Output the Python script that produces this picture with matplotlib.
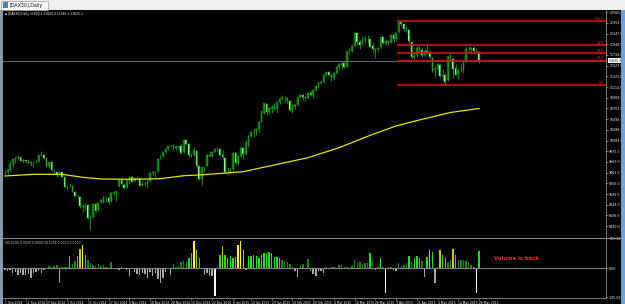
import matplotlib
matplotlib.use('Agg')
import matplotlib.pyplot as plt
import numpy as np
from matplotlib.patches import Rectangle
from matplotlib.lines import Line2D

# DAX30 daily bars, 1 Sep 2014 .. 26 May 2015
opens = [9470, 9480, 9510, 9630, 9720, 9750, 9760, 9690, 9700, 9690, 9650, 9660, 9660, 9670, 9800, 9800, 9740, 9600, 9660, 9500, 9480, 9430,
         9470, 9380, 9190, 9200, 9200, 9090, 9010, 8990, 8800, 8810, 8830, 8560, 8600, 8850, 8740, 8890, 8920, 8990, 8980, 8910, 9070, 9060, 9200,
         9330, 9230, 9180, 9310, 9380, 9300, 9360, 9360, 9220, 9250, 9240, 9300, 9460, 9470, 9490, 9740, 9790, 9860, 9920, 9970,
         9990, 9960, 9930, 9980, 9860, 10090, 10010, 9800, 9800, 9890, 9590, 9340, 9560, 9600, 9810, 9790, 9870, 9920, 9920,
         9810, 9750, 9480, 9470, 9530, 9840, 9650, 9790, 9930, 9820, 10000, 10170, 10240, 10260, 10300, 10450, 10620, 10790, 10630, 10700, 10740,
         10700, 10830, 10890, 10910, 10900, 10840, 10670, 10760, 10760, 10920, 10960, 10920, 10900, 11000, 10960, 11060, 11130, 11200, 11220, 11350,
         11400, 11350, 11290, 11390, 11500, 11550, 11580, 11510, 11800, 11810, 11910, 12150, 11980, 11950, 12030, 12050, 12040, 11900, 11820, 11840, 11880, 12080,
         11970, 12000, 11980, 12120, 12040, 12170, 12370, 12330, 12230, 12220, 11990, 11690, 11730, 11870, 11830, 11740, 11820, 11790, 11680, 11440,
         11460, 11540, 11330, 11340, 11250, 11700, 11660, 11480, 11360, 11440, 11450, 11600, 11850, 11840, 11860, 11810, 11800]
highs = [9490, 9530, 9680, 9750, 9760, 9800, 9770, 9720, 9710, 9720, 9680, 9680, 9700, 9810, 9890, 9810, 9745, 9670, 9690, 9530, 9490, 9500,
         9480, 9390, 9230, 9270, 9210, 9100, 9040, 9000, 8850, 8880, 8840, 8640, 8880, 8870, 8900, 8960, 9020, 9000, 9000, 9080, 9110, 9130, 9340,
         9370, 9260, 9330, 9390, 9410, 9370, 9400, 9370, 9300, 9290, 9320, 9470, 9490, 9500, 9740, 9800, 9870, 9920, 9980, 10000,
         10020, 9990, 9990, 10020, 10090, 10100, 10030, 9840, 9950, 9900, 9610, 9580, 9600, 9820, 9880, 9880, 9930, 9950, 9930,
         9900, 9760, 9580, 9560, 9850, 9860, 9800, 9970, 9940, 10100, 10180, 10250, 10280, 10330, 10440, 10660, 10810, 10800, 10730, 10760, 10810,
         10840, 10900, 10960, 10950, 10920, 10850, 10780, 10790, 10930, 10980, 10970, 10950, 11010, 11030, 11060, 11140, 11210, 11240, 11360, 11410,
         11420, 11370, 11400, 11520, 11580, 11600, 11590, 11820, 11860, 11920, 12180, 12160, 12030, 12100, 12100, 12110, 12060, 11980, 11860, 11890, 12100, 12090,
         12040, 12010, 12130, 12140, 12180, 12391, 12390, 12340, 12290, 12230, 12000, 11800, 11900, 11900, 11860, 11840, 11940, 11820, 11690, 11520,
         11570, 11560, 11460, 11380, 11720, 11770, 11680, 11560, 11470, 11560, 11610, 11880, 11900, 11890, 11900, 11850, 11820]
lows = [9410, 9440, 9500, 9580, 9650, 9730, 9680, 9640, 9640, 9640, 9600, 9580, 9640, 9660, 9780, 9720, 9580, 9560, 9500, 9440, 9380, 9410,
        9370, 9180, 9130, 9190, 9080, 8990, 8970, 8780, 8700, 8750, 8560, 8355, 8590, 8700, 8720, 8870, 8880, 8900, 8860, 8900, 9040, 8910, 9190,
        9220, 9140, 9170, 9240, 9280, 9280, 9320, 9200, 9200, 9210, 9160, 9290, 9420, 9380, 9480, 9720, 9770, 9840, 9900, 9950,
        9900, 9900, 9900, 9830, 9850, 9990, 9770, 9760, 9780, 9580, 9320, 9220, 9470, 9590, 9760, 9770, 9860, 9880, 9790,
        9730, 9460, 9420, 9450, 9520, 9630, 9620, 9770, 9720, 9810, 9950, 10150, 10160, 10190, 10240, 10440, 10600, 10580, 10600, 10610, 10680,
        10620, 10780, 10860, 10830, 10800, 10650, 10620, 10700, 10740, 10900, 10870, 10850, 10880, 10940, 10900, 11040, 11100, 11170, 11200, 11330,
        11320, 11240, 11250, 11370, 11470, 11460, 11480, 11500, 11750, 11800, 11900, 11930, 11850, 11930, 11970, 11990, 11890, 11800, 11680, 11800, 11870, 11940,
        11920, 11930, 11970, 11990, 12010, 12160, 12300, 12190, 12180, 11960, 11660, 11650, 11700, 11770, 11700, 11710, 11780, 11650, 11400, 11300,
        11440, 11300, 11260, 11155, 11240, 11640, 11290, 11340, 11270, 11410, 11380, 11590, 11790, 11760, 11780, 11780, 11585]
closes = [9479, 9507, 9627, 9724, 9747, 9758, 9686, 9700, 9691, 9651, 9659, 9661, 9661, 9799, 9799, 9749, 9595, 9661, 9510, 9490, 9422, 9474,
          9382, 9195, 9195, 9209, 9086, 9005, 9005, 8812, 8812, 8825, 8582, 8582, 8850, 8717, 8886, 8940, 8987, 8987, 8902, 9068, 9082, 9114, 9326,
          9235, 9167, 9316, 9378, 9291, 9351, 9369, 9210, 9248, 9252, 9306, 9456, 9472, 9483, 9732, 9785, 9861, 9915, 9974, 9980,
          9963, 9934, 9971, 9851, 10087, 10014, 9799, 9799, 9903, 9594, 9335, 9563, 9544, 9811, 9787, 9865, 9922, 9927, 9805,
          9764, 9473, 9469, 9518, 9837, 9648, 9781, 9941, 9817, 10032, 10167, 10242, 10257, 10299, 10435, 10649, 10798, 10628, 10710, 10738, 10694,
          10828, 10890, 10911, 10905, 10846, 10663, 10752, 10752, 10919, 10963, 10924, 10895, 11001, 10961, 11051, 11131, 11206, 11211, 11353, 11401,
          11356, 11280, 11390, 11504, 11551, 11582, 11500, 11806, 11799, 11901, 12167, 11980, 11922, 12020, 12040, 12039, 11895, 11844, 11843, 11868, 12086, 11966,
          12001, 11967, 12123, 12036, 12166, 12375, 12338, 12227, 12231, 11998, 11689, 11717, 11872, 11833, 11737, 11811, 11796, 11688, 11432, 11454,
          11551, 11327, 11350, 11222, 11709, 11673, 11472, 11352, 11447, 11447, 11594, 11853, 11848, 11864, 11815, 11818, 11625]

# volume oscillator histogram (lower window)
vol_osc = [-7, -11, -7, -18, -14, -25, -18, -25, -25, -22,
           -36, -18, -14, -11, -18, -7, -4, 7, 4, 7,
           11, -54, 4, 4, 4, 43, 14, 25, 43, 68,
           83, 47, 29, 18, 11, 7, 14, 7, 11, 4,
           -4, 22, -4, -4, -7, 4, -4, -7, -29, -4,
           -14, -22, -25, -18, -22, -36, -14, -29, -18, -40,
           -54, -36, -14, -4, -25, 14, 4, 7, 22, 25,
           22, 36, 54, 97, 65, 36, -4, -25, -18, -29,
           -29, -101, 4, 47, 79, 47, 36, 43, 36, 40,
           83, 97, 65, -7, 43, 43, 47, 43, 36, 47,
           54, 54, 58, 54, 40, 40, 36, 29, 25, 22,
           14, 4, -11, -32, 11, 14, -4, 32, -11, -22,
           -29, -11, -11, -18, 4, -4, 4, 4, -4, 11,
           11, 4, 4, -4, 7, 29, 18, 22, 14, 18,
           18, 54, 25, -7, 4, 36, 4, -90, 4, 4,
           -7, -11, 18, 7, 11, 18, 43, 22, 36, 43,
           36, 25, -32, 40, 65, 58, -54, 4, 65, 47,
           36, 22, 29, 68, 47, 29, 29, 29, 25, 22,
           11, 4, -90, 61]

# 200 day moving average
ma_idx = [0, 11, 22, 30, 37, 49, 60, 69, 75, 84, 92, 104, 117, 129, 142, 151, 160, 172, 183]
ma_val = [9398, 9431, 9431, 9373, 9341, 9335, 9346, 9404, 9418, 9451, 9482, 9611, 9752, 9945, 10203, 10364, 10480, 10624, 10701]

# fibonacci retracement from the April high to the May low
fib_start = 152
fib_end = 170
fib_high = 12391
fib_low = 11155
fib_levels = [100.0, 61.8, 50.0, 38.2, 0.0]

bid = 11625.1
price_ticks = [12560, 12353.5, 12147, 11940.5, 11734, 11527.5, 11321, 11114.5, 10908, 10701.5, 10495,
               10288.5, 10082, 9875.5, 9669, 9462.5, 9256, 9049.5, 8843, 8636.5, 8430]
vol_ticks = [107.3327, 0, -105.0174]
date_ticks = [0, 8, 16, 24, 32, 40, 48, 56, 64, 72, 80, 88, 95, 103, 111, 119, 127, 135, 143, 151, 159, 167, 175, 183]
date_labels = ['1 Sep 2014', '11 Sep 2014', '23 Sep 2014', '3 Oct 2014', '15 Oct 2014', '27 Oct 2014', '6 Nov 2014',
               '18 Nov 2014', '28 Nov 2014', '10 Dec 2014', '22 Dec 2014', '8 Jan 2015', '19 Jan 2015', '29 Jan 2015',
               '10 Feb 2015', '20 Feb 2015', '4 Mar 2015', '16 Mar 2015', '26 Mar 2015', '9 Apr 2015', '21 Apr 2015',
               '4 May 2015', '14 May 2015', '26 May 2015']

W, H = 625, 304
fig = plt.figure(figsize=(W / 100, H / 100), dpi=100, facecolor='black')

def box(x0, y0, x1, y1):
    # pixel box (top-left origin) -> figure fraction rect
    return [x0 / W, 1 - y1 / H, (x1 - x0) / W, (y1 - y0) / H]

def frect(x0, y0, x1, y1, **kw):
    r = box(x0, y0, x1, y1)
    fig.patches.append(Rectangle((r[0], r[1]), r[2], r[3], transform=fig.transFigure, **kw))

def fline(x0, y0, x1, y1, **kw):
    fig.lines.append(Line2D([x0 / W, x1 / W], [1 - y0 / H, 1 - y1 / H], transform=fig.transFigure, **kw))

# window frame
frect(0, 0, W, 10, facecolor='#eeeeee', edgecolor='none')
frect(1, 0.5, 48, 10, facecolor='white', edgecolor='#9a9a9a', lw=0.5)
frect(3, 2.5, 8, 7.5, facecolor='#4a7fc0', edgecolor='none')
fig.text(10 / W, 1 - 5.5 / H, '[DAX30],Daily', fontsize=3.4, color='black', va='center')
frect(0, 10, 3, H, facecolor='#8d97a8', edgecolor='none')
frect(621, 10, W, H, facecolor='#6aa3dc', edgecolor='none')

x = np.arange(len(closes))
o = np.array(opens, dtype=float)
h = np.array(highs, dtype=float)
l = np.array(lows, dtype=float)
c = np.array(closes, dtype=float)
up = c >= o

xmin = (3 - 5) / 2.59
xmax = (606 - 5) / 2.59

# main price window
ax = fig.add_axes(box(3, 10, 606, 237))
ax.set_facecolor('black')
ax.vlines(x, l, h, color='#1a9e1a', lw=0.6)
ax.bar(x[up], (c - o)[up], bottom=o[up], width=0.62, color='#0b650b', edgecolor='#1a9e1a', lw=0.35)
ax.bar(x[~up], (o - c)[~up], bottom=c[~up], width=0.62, color='#dcffdc', edgecolor='#1a9e1a', lw=0.35)
ax.plot(ma_idx, ma_val, color='#e6e600', lw=0.9)

ax.axhline(bid, color='#6a6a6a', lw=0.7)
rng = fib_high - fib_low
for lv in fib_levels:
    p = fib_low + rng * lv / 100
    ax.hlines(p, fib_start - 0.5, xmax, color='#ff0000', lw=1.1)
    ax.text(xmax - 0.8, p + 8, '%.1f' % lv, color='#ff2a2a', fontsize=2.3, ha='right', va='bottom')
ax.plot([fib_start, fib_end], [fib_high, fib_low], ls=':', color='#3550a8', lw=0.6)

ax.set_xlim(xmin, xmax)
ax.set_ylim(8221, 12602)
ax.set_yticks(price_ticks)
ax.set_yticklabels(['%.1f' % p for p in price_ticks])
ax.yaxis.tick_right()
ax.tick_params(axis='y', length=1.5, width=0.4, color='#c8c8c8', labelcolor='white', labelsize=2.3, pad=0.8)
ax.set_xticks([])
for s in ['top', 'left', 'bottom']:
    ax.spines[s].set_visible(False)
ax.spines['right'].set_color('#909090')
ax.spines['right'].set_linewidth(0.6)
ax.text(1.004, bid, '%.1f' % bid, transform=ax.get_yaxis_transform(), fontsize=2.3, color='black', va='center',
        bbox=dict(boxstyle='square,pad=0.15', facecolor='white', edgecolor='none'))
fig.text(5 / W, 1 - 13.5 / H, '\u25aa [DAX30],Daily 11800.2 11820.4 11585.1 11625.1', fontsize=2.2, color='white', va='center')

# volume window
axv = fig.add_axes(box(3, 238, 606, 298))
axv.set_facecolor('black')
v = np.array(vol_osc, dtype=float)
cols = []
for val in v:
    if val >= 80:
        cols.append('#ffff00')
    elif val >= 64:
        cols.append('#c8c800')
    elif val >= 36:
        cols.append('#22e022')
    elif val > 0:
        cols.append('#138a13')
    elif val <= -70:
        cols.append('#f4f4f4')
    else:
        cols.append('#a8a8a8')
axv.bar(x, v, width=0.55, color=cols)
axv.axhline(0, color='#8c8c8c', lw=0.7)
axv.set_xlim(xmin, xmax)
axv.set_ylim(-108, 109)
axv.set_yticks(vol_ticks)
axv.set_yticklabels(['107.3327', '0.00', '-105.017'])
axv.yaxis.tick_right()
axv.tick_params(axis='y', length=1.5, width=0.4, color='#c8c8c8', labelcolor='white', labelsize=2.3, pad=0.8)
axv.set_xticks(date_ticks)
axv.set_xticklabels(date_labels, ha='left')
axv.tick_params(axis='x', length=1.5, width=0.4, color='#c8c8c8', labelcolor='white', labelsize=2.2, pad=0.6)
for s in ['top', 'left']:
    axv.spines[s].set_visible(False)
for s in ['right', 'bottom']:
    axv.spines[s].set_color('#909090')
    axv.spines[s].set_linewidth(0.6)
axv.text(0.003, 0.95, 'VOLS(30) 0.0000 0.0000 58.5241 0.0000 0.0000', transform=axv.transAxes,
         fontsize=2.2, color='#d0d0d0', va='top')
fig.text(494 / W, 1 - 258 / H, 'Volume is back', fontsize=3.8, color='#ff2020', weight='bold', va='center')

# separators
fline(3, 237.5, 621, 237.5, color='#909090', lw=0.7)

fig.savefig('out.png', dpi=100, facecolor='black')
